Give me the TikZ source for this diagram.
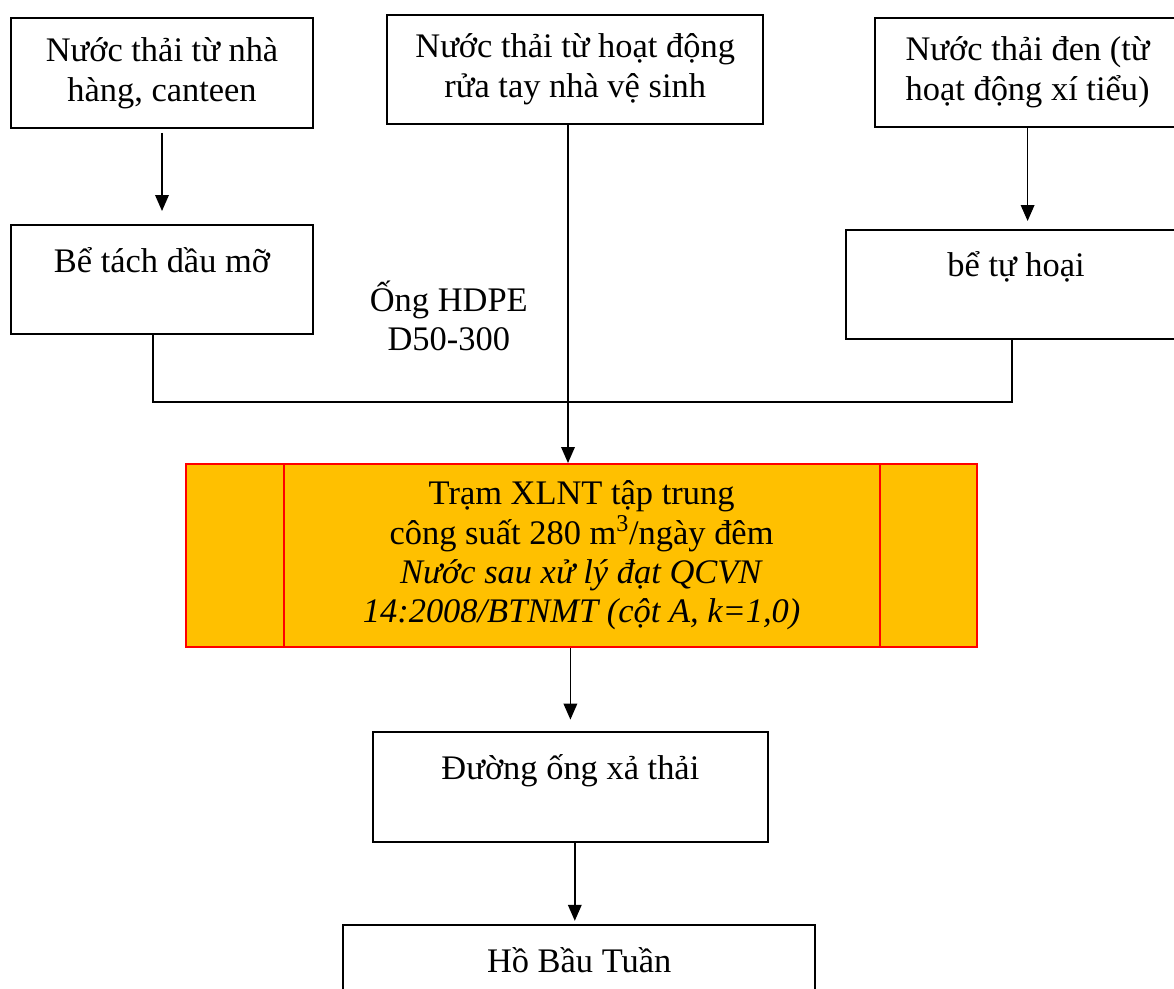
\documentclass[tikz,border=0pt]{standalone}
\usepackage{fontspec}
\setmainfont{Liberation Serif}
\usetikzlibrary{arrows.meta,calc,positioning}
\definecolor{xlorange}{RGB}{255,192,0}
\definecolor{xlred}{RGB}{255,0,0}

\begin{document}
\begin{tikzpicture}[
    box/.style={rectangle, draw=black, line width=1.4pt, minimum height=2.75cm, align=center, inner sep=0pt, font=\fontsize{24.5}{28.5}\selectfont},
    station/.style={rectangle, draw=xlred, fill=xlorange, line width=1.4pt, minimum width=19.78cm, minimum height=4.58cm, align=center, inner sep=0pt, font=\fontsize{24.5}{28}\selectfont},
    pipe/.style={line width=1.1pt, color=black},
    arr/.style={-{Triangle[length=4mm, width=3.4mm]}, line width=1.1pt, color=black}
  ]
  \useasboundingbox (0,0) rectangle (29.35,24.7);

  % Top Row: Sources
  \node[box, minimum width=7.55cm] (restaurant) at (4.05, 22.88) {Nước thải từ nhà\\hàng, canteen};
  \node[box, minimum width=9.4cm, minimum height=2.72cm] (handwash) at (14.38, 22.96) {Nước thải từ hoạt động\\rửa tay nhà vệ sinh};
  \node[box, minimum width=7.62cm, minimum height=2.72cm] (blackwater) at (25.69, 22.89) {Nước thải đen (từ\\hoạt động xí tiểu)};

  % Second Row: Pre-treatment
  \node[box, minimum width=7.55cm, minimum height=2.72cm] (grease) at (4.05, 17.71) {Bể tách dầu mỡ\\~};
  \node[box, minimum width=8.5cm, minimum height=2.72cm] (septic) at (25.4, 17.59) {bể tự hoại\\~};
  \node[font=\fontsize{24.5}{28}\selectfont, align=center] (hdpe) at (11.22, 16.8) {Ống HDPE\\D50-300};

  % Center: Treatment Station
  \node[station] (plant) at (14.54, 10.81) {Trạm XLNT tập trung\\công suất 280 m\textsuperscript{3}/ngày đêm\\\textit{Nước sau xử lý đạt QCVN}\\\textit{14:2008/BTNMT (cột A, k=1,0)}};
  \draw[xlred, line width=1.4pt] ([xshift=2.48cm]plant.north west) -- ([xshift=2.48cm]plant.south west);
  \draw[xlred, line width=1.4pt] ([xshift=-2.45cm]plant.north east) -- ([xshift=-2.45cm]plant.south east);

  % Bottom: Discharge
  \node[box, minimum width=9.88cm] (outfall) at (14.26, 5.03) {Đường ống xả thải\\~};
  \node[box, minimum width=11.8cm] (lake) at (14.48, 0.2) {Hồ Bầu Tuần\\~};

  % Inflow Paths
  \draw[arr, shorten <=1mm, shorten >=3.3mm] (restaurant) -- (grease);
  \draw[arr, shorten >=2mm] (blackwater.south) -- (blackwater.south |- septic.north);
  \draw[arr] ([xshift=-1.8mm]handwash.south) -- ([xshift=-1.8mm]handwash.south |- plant.north);
  \draw[pipe] ([xshift=-2.2mm]grease.south) -- ++(0,-1.67) -| ([xshift=-1mm]septic.south);

  % Outflow Paths
  \draw[arr, shorten >=2.8mm] (plant.south -| outfall.north) -- (outfall.north);
  \draw[arr, shorten >=0.8mm] ([xshift=1.1mm]outfall.south) -- ([xshift=1.1mm]outfall.south |- lake.north);
\end{tikzpicture}
\end{document}
